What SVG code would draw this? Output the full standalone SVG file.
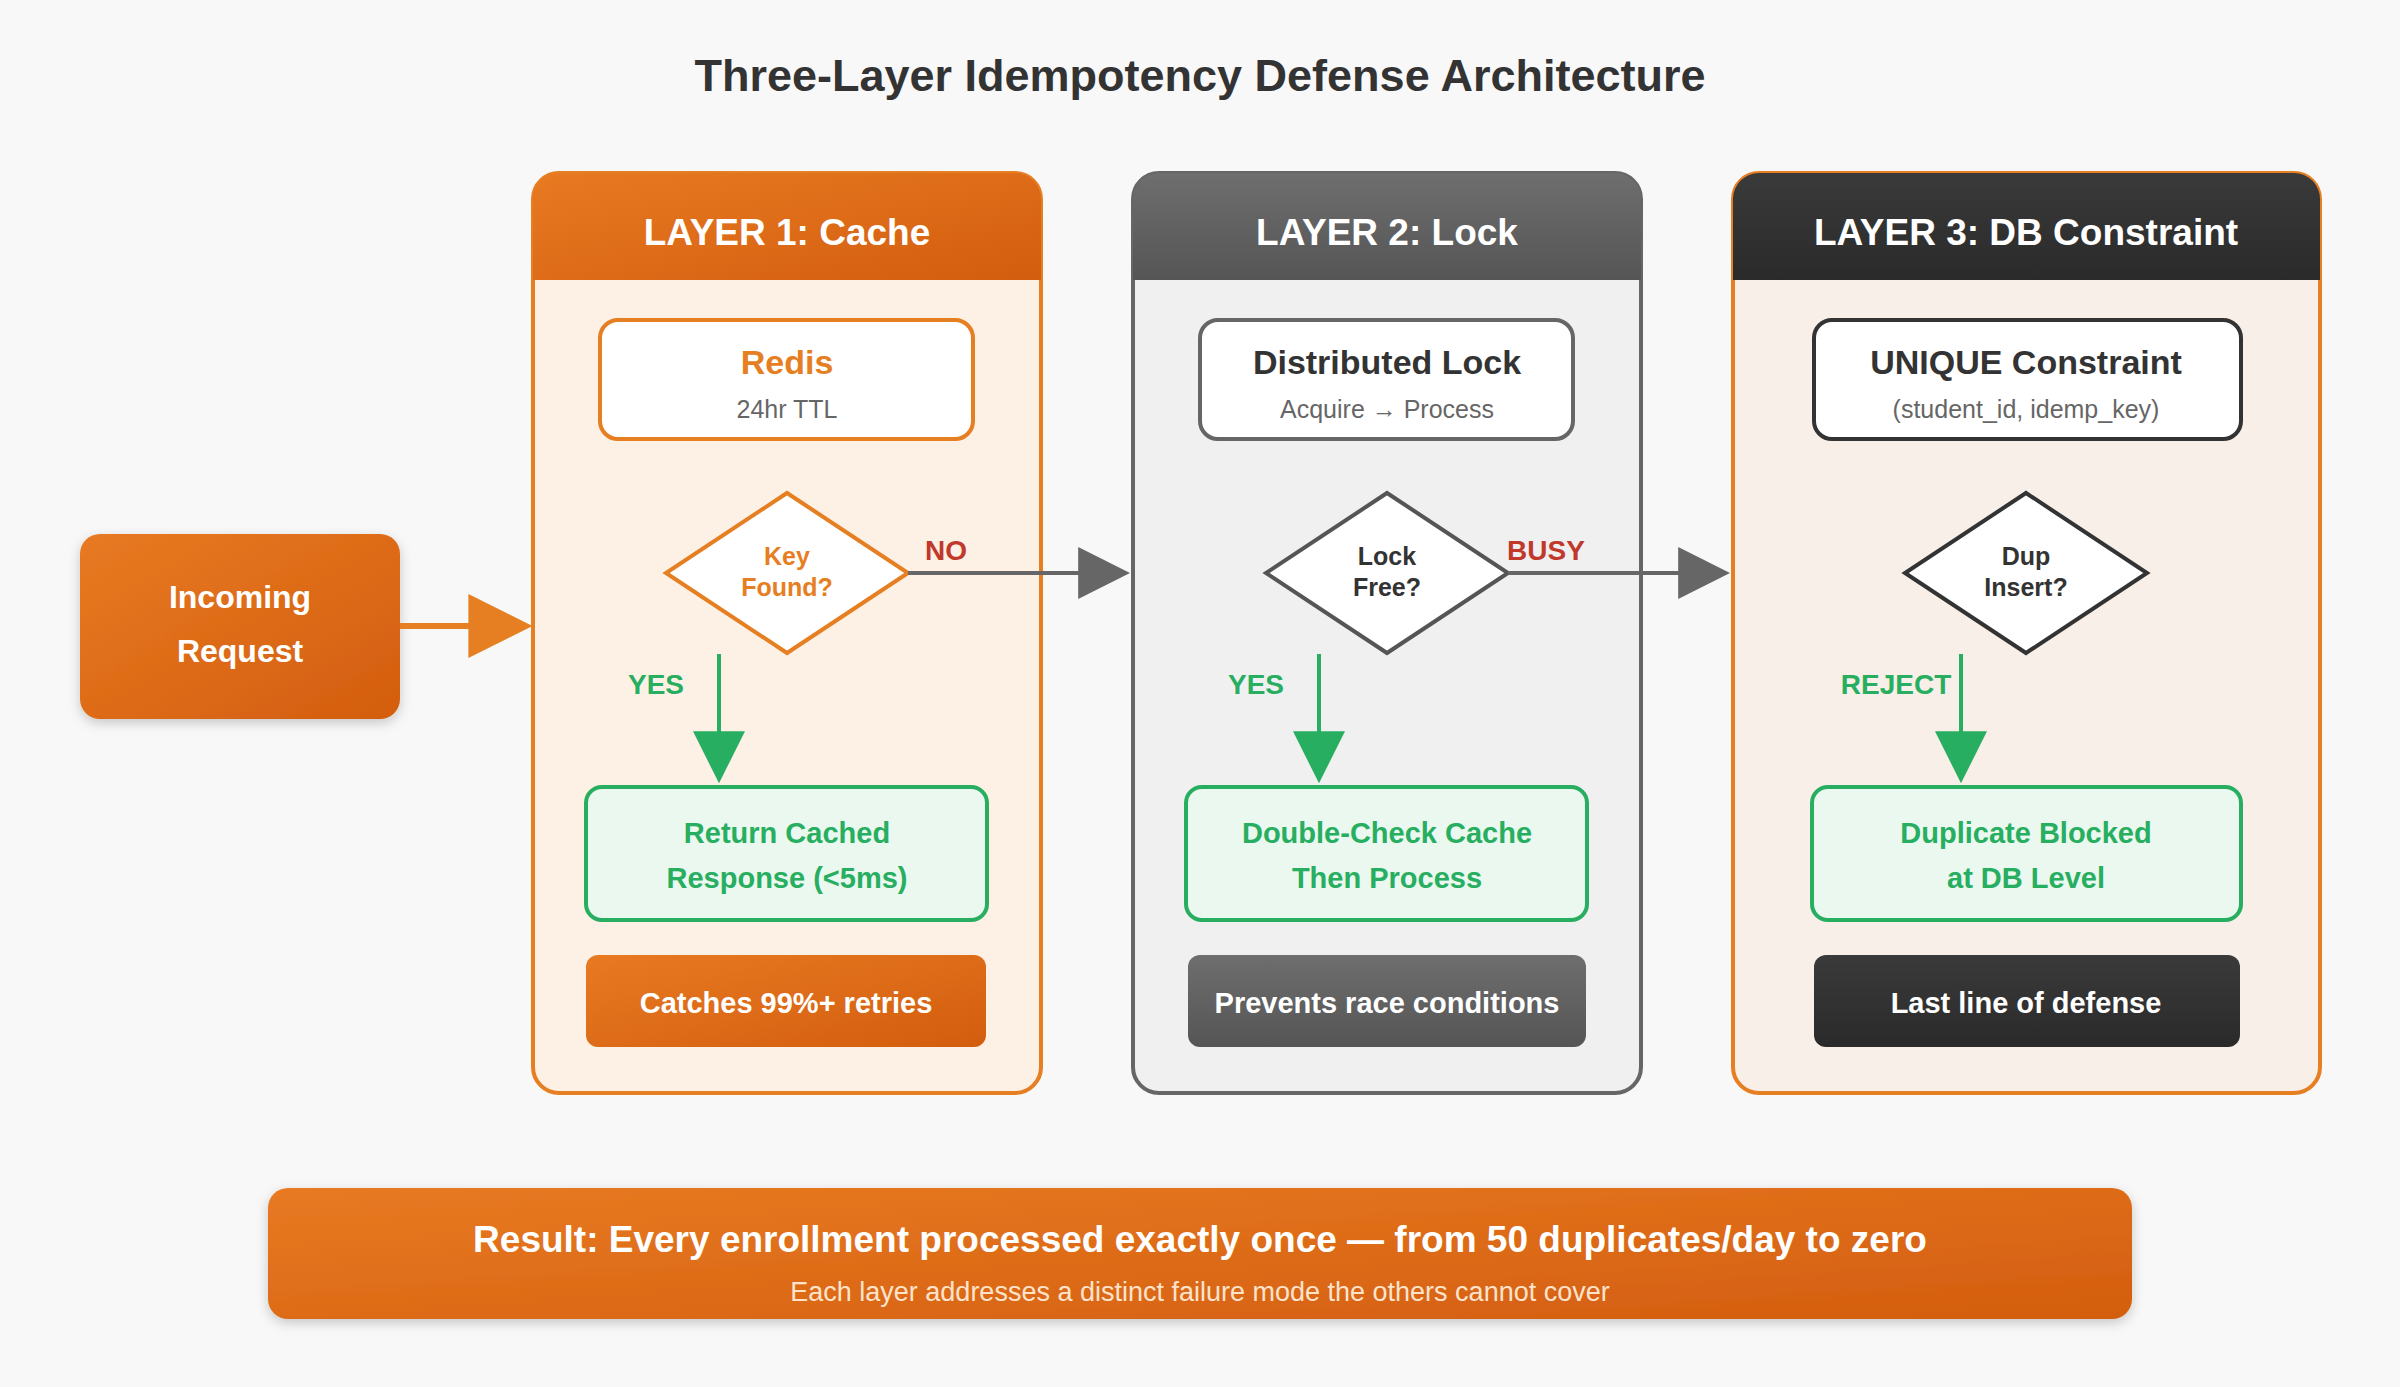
<svg xmlns="http://www.w3.org/2000/svg" width="2400" height="1387" viewBox="0 0 2400 1387">
<defs>
<linearGradient id="og" x1="0" y1="0" x2="1" y2="1"><stop offset="0" stop-color="#e87a22"/><stop offset="1" stop-color="#d35d0e"/></linearGradient>
<linearGradient id="gg" x1="0" y1="0" x2="0" y2="1"><stop offset="0" stop-color="#6e6e6e"/><stop offset="1" stop-color="#555"/></linearGradient>
<linearGradient id="dg" x1="0" y1="0" x2="0" y2="1"><stop offset="0" stop-color="#3a3a3a"/><stop offset="1" stop-color="#2a2a2a"/></linearGradient>
<marker id="ao" markerWidth="10" markerHeight="10" refX="9" refY="5" orient="auto" markerUnits="userSpaceOnUse" viewBox="0 0 10 10"><path d="M0,0 L10,5 L0,10 z" fill="#e67e22"/></marker>
<marker id="ag" viewBox="0 0 10 10" refX="9" refY="5" markerWidth="52" markerHeight="52" orient="auto" markerUnits="userSpaceOnUse"><path d="M0,0 L10,5 L0,10 z" fill="#666"/></marker>
<marker id="agr" viewBox="0 0 10 10" refX="9" refY="5" markerWidth="52" markerHeight="52" orient="auto" markerUnits="userSpaceOnUse"><path d="M0,0 L10,5 L0,10 z" fill="#27ae60"/></marker>
<marker id="aor" viewBox="0 0 10 10" refX="9" refY="5" markerWidth="64" markerHeight="64" orient="auto" markerUnits="userSpaceOnUse"><path d="M0,0 L10,5 L0,10 z" fill="#e67e22"/></marker>
<filter id="sh" x="-10%" y="-10%" width="120%" height="130%"><feDropShadow dx="0" dy="4" stdDeviation="6" flood-opacity="0.2"/></filter>
</defs>
<style>
text{font-family:"Liberation Sans",Arial,sans-serif;text-anchor:middle}
.b{font-weight:bold}
.hd{font-size:37px;font-weight:bold;fill:#fff}
.t1{font-size:34px;font-weight:bold}
.st{font-size:25px;fill:#666}
.dm{font-size:25px;font-weight:bold}
.gt{font-size:29px;font-weight:bold;fill:#27ae60}
.lb{font-size:29px;font-weight:bold;fill:#fff}
.gbox{fill:#eaf8ef;stroke:#27ae60;stroke-width:4}
</style>
<rect width="2400" height="1387" fill="#f8f8f8"/>
<text x="1200" y="91" class="b" font-size="45" fill="#333">Three-Layer Idempotency Defense Architecture</text>

<g id="incoming">
<rect x="80" y="534" width="320" height="185" rx="20" fill="url(#og)" filter="url(#sh)"/>
<text x="240" y="608" class="b" font-size="32" fill="#fff">Incoming</text>
<text x="240" y="662" class="b" font-size="32" fill="#fff">Request</text>
</g>

<g id="layer1">
<rect x="533" y="173" width="508" height="920" rx="26" fill="#fdf0e4" stroke="#e67e22" stroke-width="4"/>
<path d="M533,280 V199 a26,26 0 0 1 26,-26 H1015 a26,26 0 0 1 26,26 V280 Z" fill="url(#og)"/>
<text x="787" y="245" class="hd">LAYER 1: Cache</text>
<rect x="600" y="320" width="373" height="119" rx="18" fill="#fff" stroke="#e67e22" stroke-width="4"/>
<text x="787" y="374" class="t1" fill="#e67e22">Redis</text>
<text x="787" y="418" class="st">24hr TTL</text>
<polygon points="787,493 908,573 787,653 666,573" fill="#fff" stroke="#e67e22" stroke-width="4"/>
<text x="787" y="565" class="dm" fill="#e67e22">Key</text>
<text x="787" y="596" class="dm" fill="#e67e22">Found?</text>
<rect x="586" y="787" width="401" height="133" rx="16" class="gbox"/>
<text x="787" y="843" class="gt">Return Cached</text>
<text x="787" y="888" class="gt">Response (&lt;5ms)</text>
<rect x="586" y="955" width="400" height="92" rx="12" fill="url(#og)"/>
<text x="786" y="1013" class="lb">Catches 99%+ retries</text>
</g>

<g id="layer2">
<rect x="1133" y="173" width="508" height="920" rx="26" fill="#f0f0f0" stroke="#666" stroke-width="4"/>
<path d="M1133,280 V199 a26,26 0 0 1 26,-26 H1615 a26,26 0 0 1 26,26 V280 Z" fill="url(#gg)"/>
<text x="1387" y="245" class="hd">LAYER 2: Lock</text>
<rect x="1200" y="320" width="373" height="119" rx="18" fill="#fff" stroke="#666" stroke-width="4"/>
<text x="1387" y="374" class="t1" fill="#333">Distributed Lock</text>
<text x="1387" y="418" class="st">Acquire → Process</text>
<polygon points="1387,493 1508,573 1387,653 1266,573" fill="#fff" stroke="#555" stroke-width="4"/>
<text x="1387" y="565" class="dm" fill="#333">Lock</text>
<text x="1387" y="596" class="dm" fill="#333">Free?</text>
<rect x="1186" y="787" width="401" height="133" rx="16" class="gbox"/>
<text x="1387" y="843" class="gt">Double-Check Cache</text>
<text x="1387" y="888" class="gt">Then Process</text>
<rect x="1188" y="955" width="398" height="92" rx="12" fill="url(#gg)"/>
<text x="1387" y="1013" class="lb">Prevents race conditions</text>
</g>

<g id="layer3">
<rect x="1733" y="173" width="587" height="920" rx="26" fill="#f7efe8" stroke="#e67e22" stroke-width="4"/>
<path d="M1733,280 V199 a26,26 0 0 1 26,-26 H2294 a26,26 0 0 1 26,26 V280 Z" fill="url(#dg)"/>
<text x="2026" y="245" class="hd">LAYER 3: DB Constraint</text>
<rect x="1814" y="320" width="427" height="119" rx="18" fill="#fff" stroke="#333" stroke-width="4"/>
<text x="2026" y="374" class="t1" fill="#333">UNIQUE Constraint</text>
<text x="2026" y="418" class="st">(student_id, idemp_key)</text>
<polygon points="2026,493 2147,573 2026,653 1905,573" fill="#fff" stroke="#333" stroke-width="4"/>
<text x="2026" y="565" class="dm" fill="#333">Dup</text>
<text x="2026" y="596" class="dm" fill="#333">Insert?</text>
<rect x="1812" y="787" width="429" height="133" rx="16" class="gbox"/>
<text x="2026" y="843" class="gt">Duplicate Blocked</text>
<text x="2026" y="888" class="gt">at DB Level</text>
<rect x="1814" y="955" width="426" height="92" rx="12" fill="url(#dg)"/>
<text x="2026" y="1013" class="lb">Last line of defense</text>
</g>

<g id="connectors">
<line x1="400" y1="626" x2="526" y2="626" stroke="#e67e22" stroke-width="6" marker-end="url(#aor)"/>
<line x1="908" y1="573" x2="1125" y2="573" stroke="#666" stroke-width="4" marker-end="url(#ag)"/>
<text x="946" y="560" class="b" font-size="28" fill="#c0392b">NO</text>
<line x1="1508" y1="573" x2="1725" y2="573" stroke="#666" stroke-width="4" marker-end="url(#ag)"/>
<text x="1546" y="560" class="b" font-size="28" fill="#c0392b">BUSY</text>
<line x1="719" y1="654" x2="719" y2="778" stroke="#27ae60" stroke-width="4" marker-end="url(#agr)"/>
<text x="656" y="694" class="b" font-size="28" fill="#27ae60">YES</text>
<line x1="1319" y1="654" x2="1319" y2="778" stroke="#27ae60" stroke-width="4" marker-end="url(#agr)"/>
<text x="1256" y="694" class="b" font-size="28" fill="#27ae60">YES</text>
<line x1="1961" y1="654" x2="1961" y2="778" stroke="#27ae60" stroke-width="4" marker-end="url(#agr)"/>
<text x="1896" y="694" class="b" font-size="28" fill="#27ae60">REJECT</text>
</g>

<g id="result">
<rect x="268" y="1188" width="1864" height="131" rx="20" fill="url(#og)" filter="url(#sh)"/>
<text x="1200" y="1252" class="b" font-size="37" fill="#fff">Result: Every enrollment processed exactly once — from 50 duplicates/day to zero</text>
<text x="1200" y="1301" font-size="27" fill="#fde3cc">Each layer addresses a distinct failure mode the others cannot cover</text>
</g>
</svg>
